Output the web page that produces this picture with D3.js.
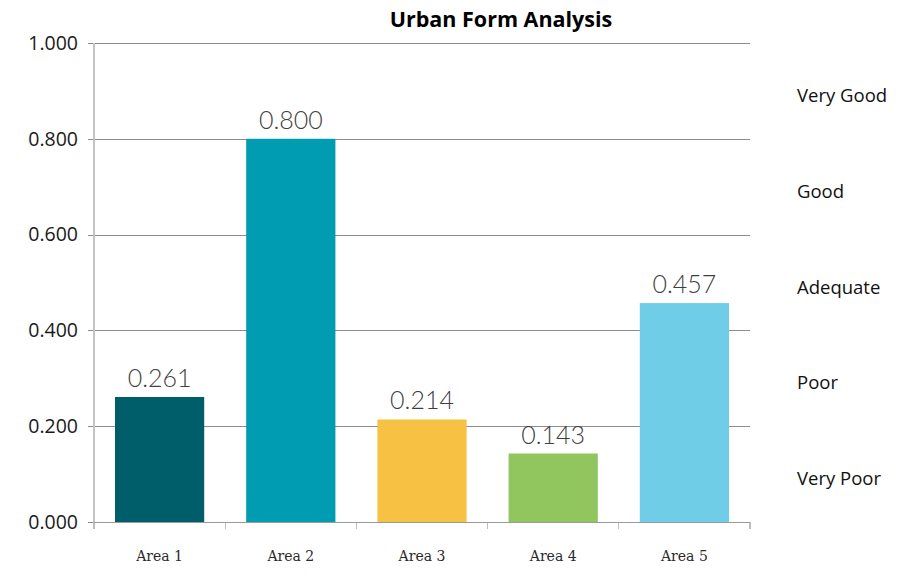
<!DOCTYPE html>
<html>
<head>
<meta charset="utf-8">
<script src="https://cdn.jsdelivr.net/npm/d3@7"></script>
<style>
  html, body { margin: 0; padding: 0; background: #fff; }
  svg { display: block; }
</style>
</head>
<body>
<svg id="chart" width="906" height="580"></svg>
<script>
// Scores per study area
const areas = ["Area 1", "Area 2", "Area 3", "Area 4", "Area 5"];
const scores = [0.261, 0.800, 0.214, 0.143, 0.457];
const barColors = ["#005E6A", "#009CB1", "#F7C243", "#91C55E", "#6FCDE8"];
const yTicks = [0, 0.2, 0.4, 0.6, 0.8, 1.0];
// Rating bands, each centred on its 0.2-wide band
const ratings = ["Very Poor", "Poor", "Adequate", "Good", "Very Good"];
const ratingMids = [0.1, 0.3, 0.5, 0.7, 0.9];

const svg = d3.select("#chart");
const plot = { left: 94, right: 750, top: 43, bottom: 522 };

const x = d3.scaleBand()
  .domain(areas)
  .range([plot.left, plot.right])
  .paddingInner(0.32)
  .paddingOuter(0.16);

const y = d3.scaleLinear()
  .domain([0, 1])
  .range([plot.bottom, plot.top]);

// Horizontal gridlines with short ticks to the left
const yAxis = d3.axisLeft(y)
  .tickValues(yTicks)
  .tickFormat(d3.format(".3f"))
  .tickSize(plot.right - plot.left + 6)
  .tickPadding(10);

const gy = svg.append("g")
  .attr("transform", `translate(${plot.right},0)`)
  .call(yAxis);
gy.select(".domain").remove();
gy.selectAll(".tick line").attr("stroke", "#8c8c8c").attr("stroke-width", 1)
  .attr("shape-rendering", "crispEdges");
gy.selectAll(".tick text")
  .attr("fill", "#1a1a1a")
  .style("font-family", "'Open Sans', sans-serif")
  .style("font-size", "19.5px");

// Vertical axis line
svg.append("line")
  .attr("x1", plot.left).attr("x2", plot.left)
  .attr("y1", y(1)).attr("y2", plot.bottom)
  .attr("stroke", "#c4c4c4").attr("stroke-width", 1.2)
  .attr("shape-rendering", "crispEdges");

// Category axis: ticks sit on the band boundaries
const boundaries = d3.range(areas.length + 1).map(i => plot.left + i * (plot.right - plot.left) / areas.length);
svg.append("g").selectAll("line")
  .data(boundaries)
  .join("line")
  .attr("x1", d => d).attr("x2", d => d)
  .attr("y1", plot.bottom).attr("y2", plot.bottom + 7)
  .attr("stroke", "#bdbdbd").attr("stroke-width", 1.2)
  .attr("shape-rendering", "crispEdges");

// Bars
svg.append("g").selectAll("rect")
  .data(scores)
  .join("rect")
  .attr("x", (d, i) => x(areas[i]))
  .attr("width", x.bandwidth())
  .attr("y", d => y(d))
  .attr("height", d => y(0) - y(d))
  .attr("fill", (d, i) => barColors[i]);

// Baseline drawn over the bars
svg.append("line")
  .attr("x1", plot.left).attr("x2", plot.right)
  .attr("y1", plot.bottom).attr("y2", plot.bottom)
  .attr("stroke", "#9a9a9a").attr("stroke-width", 1)
  .attr("shape-rendering", "crispEdges");

// Value labels
svg.append("g").selectAll("text")
  .data(scores)
  .join("text")
  .attr("x", (d, i) => x(areas[i]) + x.bandwidth() / 2)
  .attr("y", d => y(d) - 10)
  .attr("text-anchor", "middle")
  .attr("fill", "#3f3f3f")
  .style("font-family", "Lato, 'Open Sans', sans-serif")
  .style("font-weight", 300)
  .style("font-size", "25px")
  .text(d => d3.format(".3f")(d));

// Category labels
svg.append("g").selectAll("text")
  .data(areas)
  .join("text")
  .attr("x", d => x(d) + x.bandwidth() / 2)
  .attr("y", 561)
  .attr("text-anchor", "middle")
  .attr("fill", "#2a2a2a")
  .style("font-family", "'DejaVu Serif', serif")
  .style("font-size", "14px")
  .text(d => d);

// Rating labels on the right
svg.append("g").selectAll("text")
  .data(ratings)
  .join("text")
  .attr("x", 797)
  .attr("y", (d, i) => y(ratingMids[i]))
  .attr("dy", "0.6em")
  .attr("fill", "#111")
  .style("font-family", "'Open Sans', sans-serif")
  .style("font-size", "18.5px")
  .text(d => d);

// Title
svg.append("text")
  .attr("x", 501)
  .attr("y", 27)
  .attr("text-anchor", "middle")
  .attr("fill", "#000")
  .style("font-family", "'Open Sans', sans-serif")
  .style("font-weight", 700)
  .style("font-size", "21.5px")
  .text("Urban Form Analysis");
</script>
</body>
</html>
